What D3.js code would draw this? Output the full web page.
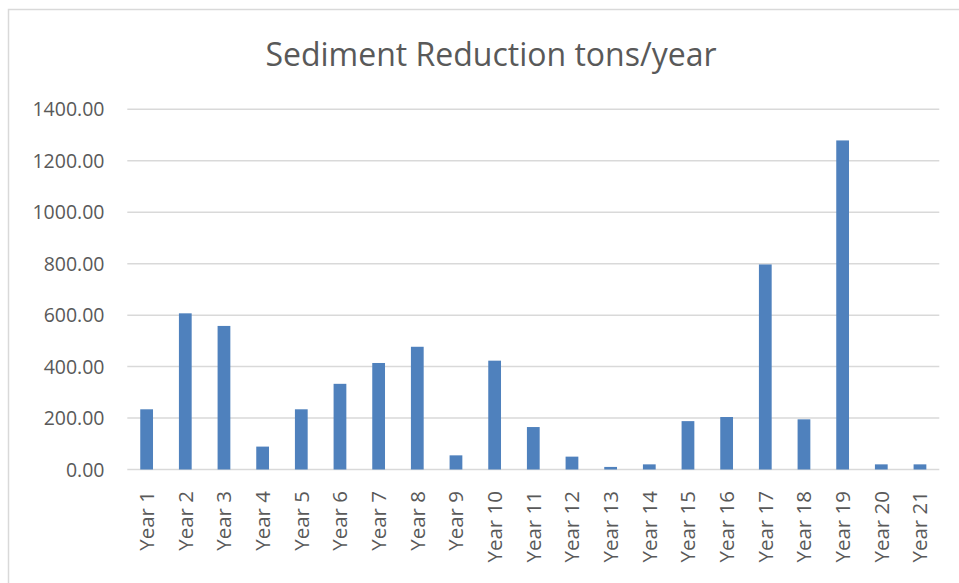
<!DOCTYPE html>
<html>
<head>
<meta charset="utf-8">
<script src="https://cdn.jsdelivr.net/npm/d3@7"></script>
<style>
  body { margin: 0; background: #fff; }
  text { font-family: "Open Sans", "Noto Sans", sans-serif; fill: #595959; }
</style>
</head>
<body>
<div id="chart"></div>
<script>
// data
var years = ["Year 1", "Year 2", "Year 3", "Year 4", "Year 5", "Year 6", "Year 7",
  "Year 8", "Year 9", "Year 10", "Year 11", "Year 12", "Year 13", "Year 14",
  "Year 15", "Year 16", "Year 17", "Year 18", "Year 19", "Year 20", "Year 21"];
var tons = [234, 607, 558, 89, 234, 333, 414, 477, 55, 423, 165, 50, 10, 20,
  188, 204, 797, 195, 1279, 20, 20];
var yTicks = [0, 200, 400, 600, 800, 1000, 1200, 1400];

var W = 959, H = 583;
var svg = d3.select("#chart").append("svg").attr("width", W).attr("height", H);

svg.append("rect").attr("width", W).attr("height", H).attr("fill", "#fff");

// chart border
svg.append("rect")
  .attr("x", 8.5).attr("y", 9.5)
  .attr("width", W).attr("height", H)
  .attr("fill", "none").attr("stroke", "#d9d9d9").attr("stroke-width", 1.5);

var plotL = 127.3, plotR = 939.3, plotT = 109.3, plotB = 469.5;

var x = d3.scaleBand().domain(years).range([plotL, plotR]).paddingInner(0.67).paddingOuter(0.335);
var y = d3.scaleLinear().domain([0, 1400]).range([plotB, plotT]);

// gridlines
svg.append("g").selectAll("line").data(yTicks).enter().append("line")
  .attr("x1", plotL).attr("x2", plotR)
  .attr("y1", function (d) { return y(d); })
  .attr("y2", function (d) { return y(d); })
  .attr("stroke", "#d9d9d9").attr("stroke-width", 1.5);

// y labels
svg.append("g").selectAll("text").data(yTicks).enter().append("text")
  .attr("x", 104.5)
  .attr("y", function (d) { return y(d); })
  .attr("dy", "0.36em")
  .attr("text-anchor", "end")
  .style("font-size", "19.5px")
  .text(function (d) { return d3.format(".2f")(d); });

// bars
svg.append("g").selectAll("rect").data(tons).enter().append("rect")
  .attr("x", function (d, i) { return x(years[i]); })
  .attr("width", x.bandwidth())
  .attr("y", function (d) { return y(d); })
  .attr("height", function (d) { return y(0) - y(d); })
  .attr("fill", "#4f81bd");

// x labels, rotated
svg.append("g").selectAll("text").data(years).enter().append("text")
  .attr("transform", function (d) {
    return "translate(" + (x(d) + x.bandwidth() / 2) + ",491) rotate(-90)";
  })
  .attr("dy", "0.36em")
  .attr("text-anchor", "end")
  .style("font-size", "20.5px")
  .text(function (d) { return d; });

// title
svg.append("text")
  .attr("x", 491).attr("y", 65.5)
  .attr("text-anchor", "middle")
  .style("font-size", "32px")
  .text("Sediment Reduction tons/year");
</script>
</body>
</html>
